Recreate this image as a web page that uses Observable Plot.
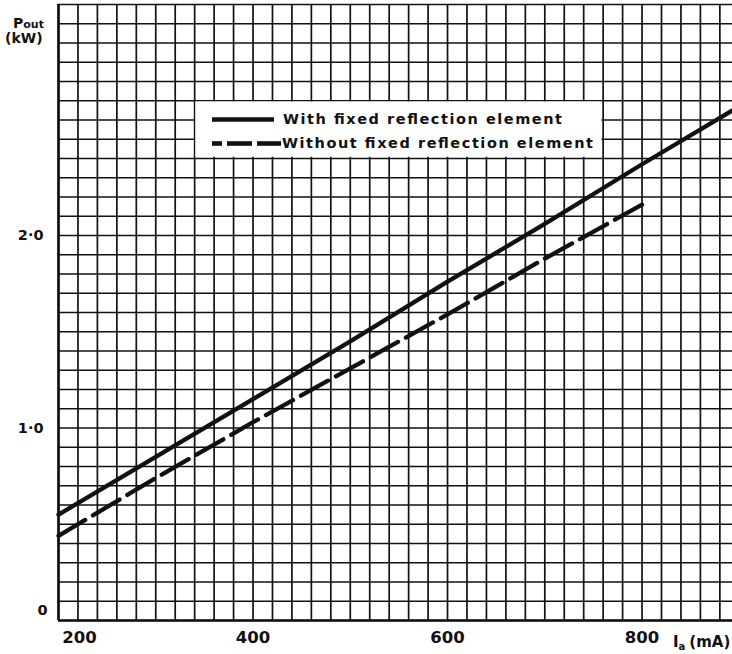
<!DOCTYPE html>
<html><head><meta charset="utf-8">
<script src="https://cdn.jsdelivr.net/npm/d3@7"></script>
<script src="https://cdn.jsdelivr.net/npm/@observablehq/plot@0.6"></script>
<style>
html,body{margin:0;padding:0;background:#fff;}
#chart{width:732px;height:654px;}
</style></head><body><div id="chart"></div>
<script>
// Data (anode current Ia in mA, output power in kW)
const currentWith = [200, 300, 400, 500, 600, 700, 800, 893];
const powerWith = [0.55, 0.85, 1.15, 1.45, 1.76, 2.06, 2.37, 2.65];
const currentWithout = [200, 300, 400, 500, 600, 700, 800];
const powerWithout = [0.44, 0.74, 1.03, 1.31, 1.59, 1.88, 2.16];
const seriesNames = ["With fixed reflection element", "Without fixed reflection element"];
const xTicks = [200, 400, 600, 800];
const xTickLabels = ["200", "400", "600", "800"];
const yTicks = [0, 1, 2];
const yTickLabels = ["0", "1·0", "2·0"];

const ink = "#111";
const withData = currentWith.map((x, i) => ({x, y: powerWith[i]}));
const withoutData = currentWithout.map((x, i) => ({x, y: powerWithout[i]}));
const gridX = d3.range(200, 881, 20);
const gridY = d3.range(0, 33).map(i => i / 10);
const xLab = xTicks.map((v, i) => ({v, label: xTickLabels[i]}));
const yLab = yTicks.map((v, i) => ({v, label: yTickLabels[i]}));

const plot = Plot.plot({
  width: 732, height: 654,
  marginLeft: 58, marginRight: 0, marginTop: 4, marginBottom: 34,
  x: {domain: [200, 893], axis: null},
  y: {domain: [0, 3.2], axis: null},
  style: {background: "#fff", color: ink, fontFamily: "DejaVu Sans"},
  marks: [
    Plot.ruleX(gridX, {stroke: ink, strokeWidth: 1.7}),
    Plot.ruleY(gridY, {stroke: ink, strokeWidth: 1.7}),
    Plot.ruleX([200], {stroke: ink, strokeWidth: 2.6}),
    Plot.ruleY([0], {stroke: ink, strokeWidth: 2.6}),
    Plot.line(withData, {x: "x", y: "y", stroke: ink, strokeWidth: 4.3}),
    Plot.line(withoutData, {x: "x", y: "y", stroke: ink, strokeWidth: 4.3, strokeDasharray: "31,9"}),
    Plot.text(xLab.filter(d => d.v !== 200), {x: "v", text: "label", frameAnchor: "bottom", dy: 22, fontSize: 16.5, fontWeight: "bold", fill: ink}),
    Plot.text(xLab.filter(d => d.v === 200), {x: "v", text: "label", frameAnchor: "bottom", dy: 22, dx: 21, fontSize: 16.5, fontWeight: "bold", fill: ink}),
    Plot.text(yLab.filter(d => d.v !== 0), {y: "v", text: "label", frameAnchor: "left", dx: -15, textAnchor: "end", fontSize: 14.5, fontWeight: "bold", fill: ink}),
    Plot.text(yLab.filter(d => d.v === 0), {y: "v", text: "label", frameAnchor: "left", dx: -11, dy: -10, textAnchor: "end", fontSize: 14.5, fontWeight: "bold", fill: ink})
  ]
});

const svg = d3.select(plot);
const sx = plot.scale("x"), sy = plot.scale("y");
const txt = (sel, x, y, size) => sel.append("text").attr("x", x).attr("y", y).attr("fill", ink)
  .attr("text-anchor", "start").attr("font-family", "DejaVu Sans")
  .attr("font-weight", "bold").attr("font-size", size);

// Axis titles
const pt = txt(svg, 13, 28, 14);
pt.append("tspan").text("P");
pt.append("tspan").attr("font-size", 11).text("out");
txt(svg, 5, 43, 14).text("(kW)");

const ia = txt(svg, 673, 647, 15);
ia.append("tspan").text("I");
ia.append("tspan").attr("font-size", 10).attr("dy", 3).text("a");
ia.append("tspan").attr("dy", -3).attr("dx", 4).text("(mA)");

// Legend (white box over the grid)
const lx0 = sx.apply(340) + 1.2, lx1 = sx.apply(760) - 1.2;
const ly0 = sy.apply(2.7) + 1.2, ly1 = sy.apply(2.4) - 1.2;
const lg = svg.append("g");
lg.append("rect").attr("x", lx0).attr("y", ly0).attr("width", lx1 - lx0).attr("height", ly1 - ly0).attr("fill", "#fff");
lg.append("line").attr("x1", 212).attr("x2", 274).attr("y1", 119.5).attr("y2", 119.5)
  .attr("stroke", ink).attr("stroke-width", 4.6);
[[212, 222], [227, 252], [257, 281]].forEach(([a, b]) =>
  lg.append("line").attr("x1", a).attr("x2", b).attr("y1", 143.5).attr("y2", 143.5)
    .attr("stroke", ink).attr("stroke-width", 4.6));
txt(lg, 283, 124, 14.5).attr("textLength", 279).attr("lengthAdjust", "spacing").text(seriesNames[0]);
txt(lg, 282, 148, 14.5).attr("textLength", 311).attr("lengthAdjust", "spacing").text(seriesNames[1]);

document.getElementById("chart").appendChild(plot);
</script></body></html>
